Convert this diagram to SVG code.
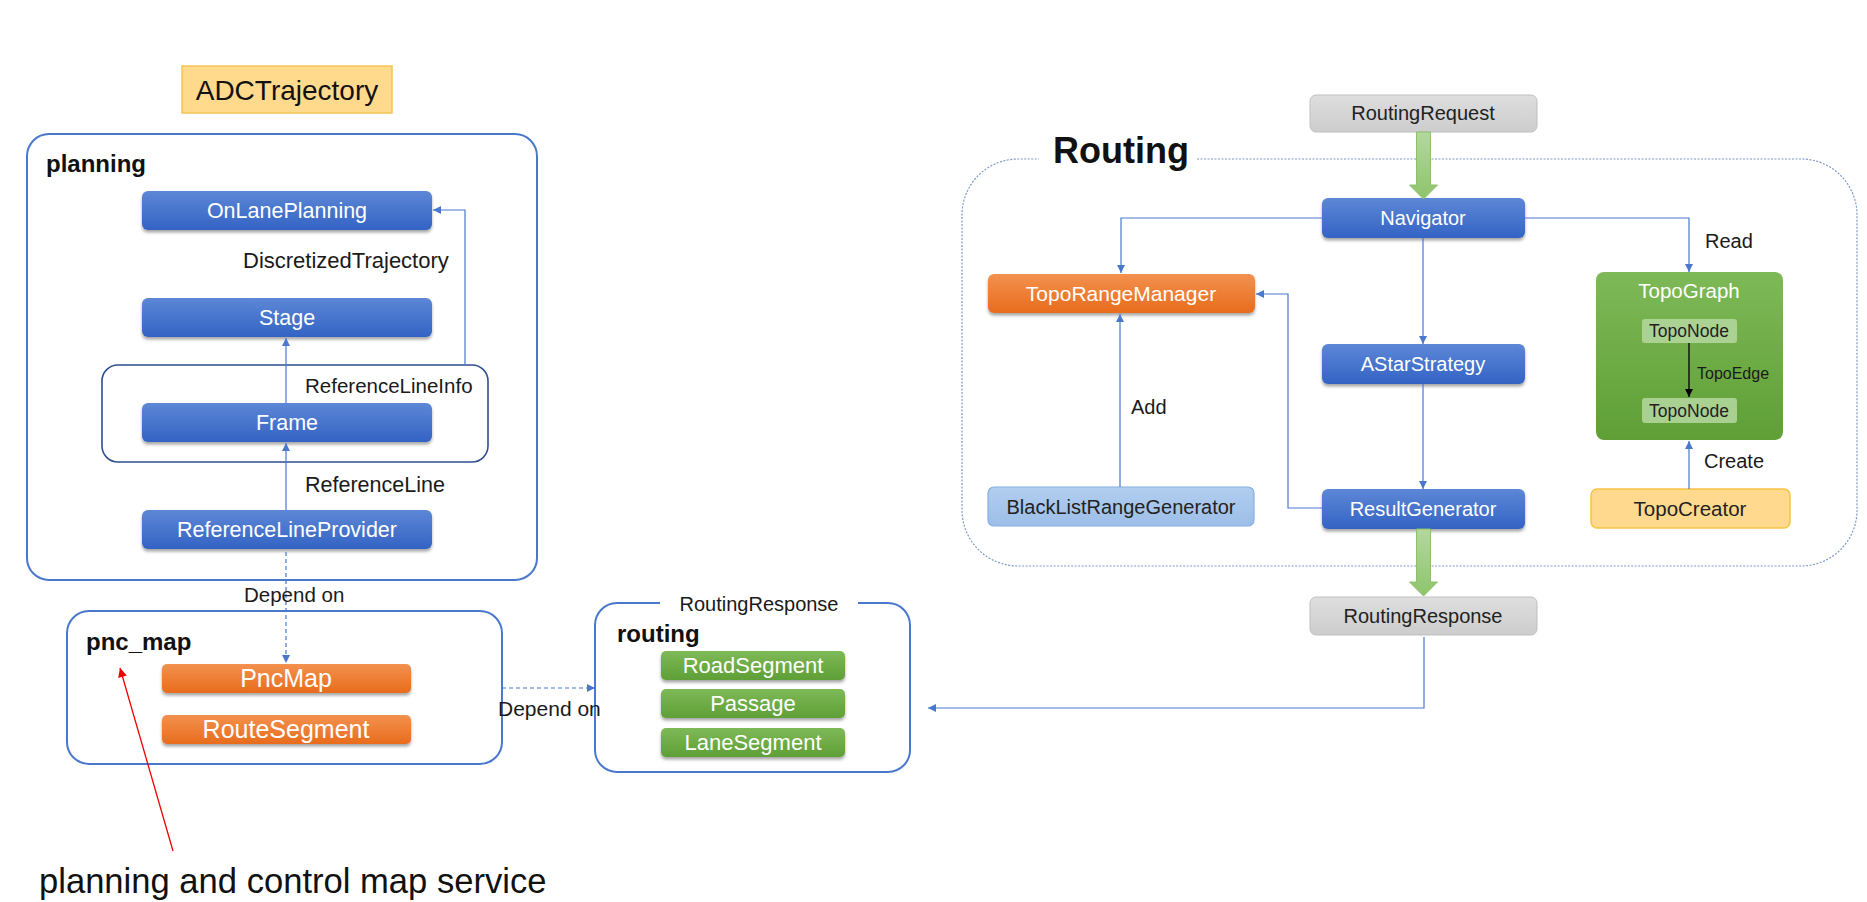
<svg xmlns="http://www.w3.org/2000/svg" width="1867" height="902" viewBox="0 0 1867 902">
<style>
text{font-family:"Liberation Sans",Arial,sans-serif}
.nt{font-size:20px;fill:#fff;text-anchor:middle}
.nl{font-size:21.5px;fill:#fff;text-anchor:middle}
.no{font-size:25px;fill:#fff;text-anchor:middle}
.ng{font-size:22px;fill:#fff;text-anchor:middle}
.dt{font-size:20px;fill:#222;text-anchor:middle}
.tn{font-size:17.5px;fill:#222;text-anchor:middle}
.lbl{font-size:20px;fill:#1a1a1a}
.ttl{font-size:24px;font-weight:bold;fill:#111}
.cont{fill:none;stroke:#4A78CC;stroke-width:2}
.con{fill:none;stroke:#4A78CC;stroke-width:1.2}
.dash{fill:none;stroke:#4A78CC;stroke-width:1.2;stroke-dasharray:4 3}
.blue{fill:url(#gBlue)}
.orange{fill:url(#gOrange)}
.green{fill:url(#gGreen)}
.gray{fill:url(#gGray);stroke:#BFBFBF;stroke-width:1}
</style>
<defs>
<linearGradient id="gBlue" x1="0" y1="0" x2="0" y2="1"><stop offset="0" stop-color="#5D87D6"/><stop offset="1" stop-color="#3363C4"/></linearGradient>
<linearGradient id="gOrange" x1="0" y1="0" x2="0" y2="1"><stop offset="0" stop-color="#F3914F"/><stop offset="1" stop-color="#E86C1C"/></linearGradient>
<linearGradient id="gGreen" x1="0" y1="0" x2="0" y2="1"><stop offset="0" stop-color="#7EB957"/><stop offset="1" stop-color="#5F9F36"/></linearGradient>
<linearGradient id="gGray" x1="0" y1="0" x2="0" y2="1"><stop offset="0" stop-color="#DEDEDE"/><stop offset="1" stop-color="#CDCDCD"/></linearGradient>
<linearGradient id="gLight" x1="0" y1="0" x2="0" y2="1"><stop offset="0" stop-color="#B2CEEF"/><stop offset="1" stop-color="#9CBEE8"/></linearGradient>
<linearGradient id="gFat" x1="0" y1="0" x2="0" y2="1"><stop offset="0" stop-color="#B3D89C"/><stop offset="1" stop-color="#8EC46C"/></linearGradient>
<filter id="sh" x="-10%" y="-20%" width="120%" height="160%"><feDropShadow dx="0" dy="2.5" stdDeviation="1.8" flood-color="#000" flood-opacity="0.35"/></filter>
<marker id="ab" viewBox="0 0 10 10" refX="10" refY="5" markerWidth="9" markerHeight="8" markerUnits="userSpaceOnUse" orient="auto"><path d="M0,0 L10,5 L0,10 Z" fill="#4A78CC"/></marker>
<marker id="ak" viewBox="0 0 10 10" refX="10" refY="5" markerWidth="9" markerHeight="8" markerUnits="userSpaceOnUse" orient="auto"><path d="M0,0 L10,5 L0,10 Z" fill="#000"/></marker>
<marker id="ar" viewBox="0 0 10 10" refX="10" refY="5" markerWidth="13" markerHeight="9" markerUnits="userSpaceOnUse" orient="auto"><path d="M0,0 L10,5 L0,10 Z" fill="#E00"/></marker>
</defs>
<rect width="1867" height="902" fill="#fff"/>

<!-- containers -->
<g id="planning">
<rect class="cont" x="27" y="134" width="510" height="446" rx="22"/>
<text class="ttl" x="46" y="172">planning</text>
</g>
<g id="frameGroup">
<rect fill="none" stroke="#2F4F8F" stroke-width="1.6" x="102" y="365" width="386" height="97" rx="16"/>
</g>
<g id="pnc_map">
<rect class="cont" x="67" y="611" width="435" height="153" rx="22"/>
<text class="ttl" x="86" y="650">pnc_map</text>
</g>
<g id="routing">
<path class="cont" d="M858,603 H888 A22,22 0 0 1 910,625 V750 A22,22 0 0 1 888,772 H617 A22,22 0 0 1 595,750 V625 A22,22 0 0 1 617,603 H660"/>
<text class="lbl" x="759" y="611" text-anchor="middle">RoutingResponse</text>
<text class="ttl" x="617" y="642">routing</text>
</g>
<g id="RoutingModule">
<path fill="none" stroke="#7E98C8" stroke-width="1.2" stroke-dasharray="2 1.5" d="M1197,159 H1801 A56,56 0 0 1 1857,215 V510 A56,56 0 0 1 1801,566 H1018 A56,56 0 0 1 962,510 V215 A56,56 0 0 1 1018,159 H1039"/>
<text x="1053" y="163" font-size="36" font-weight="bold" fill="#111">Routing</text>
</g>

<g id="ADCTrajectory">
<rect x="182" y="66" width="210" height="47" fill="#FFD98C" stroke="#F5C35A" stroke-width="1.5"/>
<text x="287" y="100" font-size="28" fill="#111" text-anchor="middle">ADCTrajectory</text>
</g>

<!-- planning nodes -->
<g id="OnLanePlanning"><rect class="blue" filter="url(#sh)" x="142" y="191" width="290" height="39" rx="6"/><text class="nl" x="287" y="218">OnLanePlanning</text></g>
<g id="Stage"><rect class="blue" filter="url(#sh)" x="142" y="298" width="290" height="39" rx="6"/><text class="nl" x="287" y="325">Stage</text></g>
<g id="Frame"><rect class="blue" filter="url(#sh)" x="142" y="403" width="290" height="39" rx="6"/><text class="nl" x="287" y="430">Frame</text></g>
<g id="ReferenceLineProvider"><rect class="blue" filter="url(#sh)" x="142" y="510" width="290" height="39" rx="6"/><text class="nl" x="287" y="537">ReferenceLineProvider</text></g>

<!-- pnc_map nodes -->
<g id="PncMap"><rect class="orange" filter="url(#sh)" x="162" y="664" width="249" height="29" rx="5"/><text class="no" x="286" y="687">PncMap</text></g>
<g id="RouteSegment"><rect class="orange" filter="url(#sh)" x="162" y="715" width="249" height="29" rx="5"/><text class="no" x="286" y="738">RouteSegment</text></g>

<!-- routing nodes -->
<g id="RoadSegment"><rect class="green" filter="url(#sh)" x="661" y="651" width="184" height="29" rx="5"/><text class="ng" x="753" y="673">RoadSegment</text></g>
<g id="Passage"><rect class="green" filter="url(#sh)" x="661" y="689" width="184" height="29" rx="5"/><text class="ng" x="753" y="711">Passage</text></g>
<g id="LaneSegment"><rect class="green" filter="url(#sh)" x="661" y="728" width="184" height="29" rx="5"/><text class="ng" x="753" y="750">LaneSegment</text></g>

<g id="planning_service_note">
<text x="39" y="893" font-size="34.6" fill="#111">planning and control map service</text>
</g>

<!-- Routing module nodes -->
<g id="RoutingRequest"><rect class="gray" x="1310" y="95" width="227" height="37" rx="6"/><text class="dt" x="1423" y="120">RoutingRequest</text></g>
<g id="Navigator"><rect class="blue" filter="url(#sh)" x="1322" y="198" width="203" height="40" rx="6"/><text class="nt" x="1423" y="225">Navigator</text></g>
<g id="TopoRangeManager"><rect class="orange" filter="url(#sh)" x="988" y="274" width="267" height="39" rx="6"/><text class="nt" x="1121" y="301" style="font-size:21px">TopoRangeManager</text></g>
<g id="AStarStrategy"><rect class="blue" filter="url(#sh)" x="1322" y="344" width="203" height="40" rx="6"/><text class="nt" x="1423" y="371">AStarStrategy</text></g>
<g id="ResultGenerator"><rect class="blue" filter="url(#sh)" x="1322" y="489" width="203" height="40" rx="6"/><text class="nt" x="1423" y="516">ResultGenerator</text></g>
<g id="BlackListRangeGenerator"><rect fill="url(#gLight)" stroke="#84B0E2" stroke-width="1.2" x="988" y="487" width="266" height="39" rx="6"/><text class="dt" x="1121" y="514">BlackListRangeGenerator</text></g>
<g id="TopoGraph">
<rect fill="url(#gGreen)" x="1596" y="272" width="187" height="168" rx="8"/>
<text class="nt" x="1689" y="298" style="font-size:20.5px">TopoGraph</text>
</g>
<g id="TopoNode1"><rect x="1642" y="319" width="95" height="24" rx="3" fill="#B5D8A0" fill-opacity="0.85"/><text class="tn" x="1689" y="337">TopoNode</text></g>
<g id="TopoNode2"><rect x="1642" y="398" width="95" height="25" rx="3" fill="#B5D8A0" fill-opacity="0.85"/><text class="tn" x="1689" y="417">TopoNode</text></g>
<g id="TopoCreator"><rect fill="#FFDA8E" stroke="#F7C446" stroke-width="1.5" x="1591" y="489" width="199" height="39" rx="6"/><text class="dt" x="1690" y="516" style="font-size:20.5px">TopoCreator</text></g>
<g id="RoutingResponse"><rect class="gray" x="1310" y="597" width="227" height="38" rx="6"/><text class="dt" x="1423" y="623">RoutingResponse</text></g>

<!-- connectors -->
<g id="connectors">
<path class="con" d="M465,365 V210 H433" marker-end="url(#ab)"/>
<path class="con" d="M286,403 V338" marker-end="url(#ab)"/>
<path class="con" d="M286,510 V443" marker-end="url(#ab)"/>
<path class="dash" d="M286,552 V663" marker-end="url(#ab)"/>
<path class="dash" d="M502,688 H595" marker-end="url(#ab)"/>
<path d="M173,851 L120,668" stroke="#E00" stroke-width="1.3" fill="none" marker-end="url(#ar)"/>
<path class="con" d="M1322,218 H1121 V273" marker-end="url(#ab)"/>
<path class="con" d="M1525,218 H1689 V272" marker-end="url(#ab)"/>
<path class="con" d="M1423,238 V344" marker-end="url(#ab)"/>
<path class="con" d="M1423,384 V489" marker-end="url(#ab)"/>
<path class="con" d="M1322,508 H1288 V294 H1256" marker-end="url(#ab)"/>
<path class="con" d="M1120,487 V314" marker-end="url(#ab)"/>
<path class="con" d="M1689,489 V441" marker-end="url(#ab)"/>
<path d="M1689,343 V397" stroke="#000" stroke-width="1.3" fill="none" marker-end="url(#ak)"/>
<path class="con" d="M1424,637 V708 H928" marker-end="url(#ab)"/>
<path d="M1416.5,132 H1430.5 V185 H1437.5 L1423.5,199 L1409.5,185 H1416.5 Z" fill="url(#gFat)" stroke="#8CC06A" stroke-width="1"/>
<path d="M1416.5,529 H1430.5 V582 H1437.5 L1423.5,596 L1409.5,582 H1416.5 Z" fill="url(#gFat)" stroke="#8CC06A" stroke-width="1"/>
<text class="lbl" x="243" y="268" style="font-size:22px">DiscretizedTrajectory</text>
<text class="lbl" x="305" y="393" style="font-size:20.5px">ReferenceLineInfo</text>
<text class="lbl" x="305" y="492" style="font-size:21.5px">ReferenceLine</text>
<text class="lbl" x="244" y="602" style="font-size:20.5px">Depend on</text>
<text class="lbl" x="498" y="716" style="font-size:21px">Depend on</text>
<text class="lbl" x="1705" y="248">Read</text>
<text class="lbl" x="1704" y="468">Create</text>
<text class="lbl" x="1131" y="414">Add</text>
<text x="1697" y="379" font-size="16" fill="#1a1a1a">TopoEdge</text>
</g>
</svg>
